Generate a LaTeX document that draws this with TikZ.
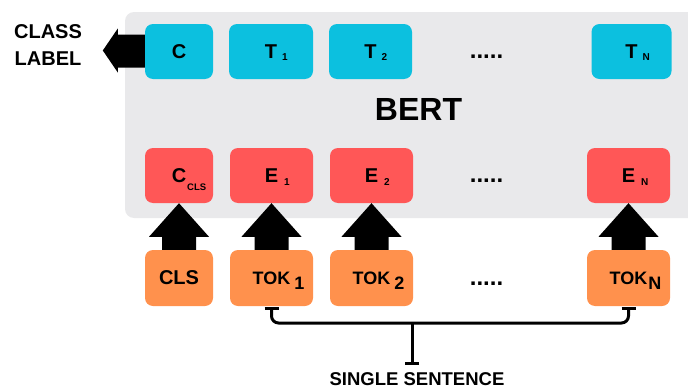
\documentclass[tikz,border=0pt]{standalone}
\usepackage{fontspec}
\setmainfont{Liberation Sans}
\usetikzlibrary{arrows.meta}
\definecolor{cyanbox}{HTML}{0CC0DF}
\definecolor{redbox}{HTML}{FF5757}
\definecolor{orangebox}{HTML}{FF914D}
\definecolor{bggray}{HTML}{E9E9EB}
\newcommand{\fs}[1]{\fontsize{#1}{#1}\selectfont}
\newcommand{\subs}[3]{\rlap{\hspace{#1}\raisebox{#2}[0pt][0pt]{#3}}}
\newcommand{\blockup}[2]{\fill[blockarrow] ([xshift=-17pt]#1.north) -- ([xshift=-17pt,yshift=13pt]#1.north) -- ([xshift=-30pt,yshift=13pt]#1.north) -- (#2.south) -- ([xshift=30pt,yshift=13pt]#1.north) -- ([xshift=17pt,yshift=13pt]#1.north) -- ([xshift=17pt]#1.north) -- cycle;}
\begin{document}
\begin{tikzpicture}[x=1pt,y=-1pt,
 box/.style={rounded corners=8pt, minimum height=55pt, inner sep=0pt, text=black, font=\bfseries},
 topbox/.style={box, fill=cyanbox},
 embbox/.style={box, fill=redbox},
 tokbox/.style={box, fill=orangebox, minimum height=56pt},
 blockarrow/.style={fill=black},
 bracket/.style={line width=3pt, rounded corners=7pt},
 dots/.style={font=\bfseries\fs{24}, inner sep=0pt, anchor=base},
 lbl/.style={font=\bfseries\fontsize{20}{27}\selectfont, align=center, inner sep=0pt}
]
\useasboundingbox (0,0) rectangle (688,388);
\begin{scope}
\clip (0,0) rectangle (688,388);
\fill[bggray, rounded corners=9pt] (125,12) rectangle (720,218);
\end{scope}

% top row
\node[topbox, minimum width=68pt] (C) at (179,51.5) {\fs{20}C};
\node[topbox, minimum width=84pt] (T1) at (271,51.5) {\fs{20}T\subs{5pt}{-2pt}{\fs{10}1}};
\node[topbox, minimum width=83pt] (T2) at (370.5,51.5) {\fs{20}T\subs{5pt}{-2pt}{\fs{10}2}};
\node[topbox, minimum width=80pt] (TN) at (631.5,51.5) {\fs{20}T\subs{5pt}{-2pt}{\fs{10}N}};
\node[dots] (d1) at (486.5,58) {.....};

\node[font=\bfseries\fs{32}, inner sep=0pt] (bert) at (418.5,109.5) {BERT};

% embedding row
\node[embbox, minimum width=68pt] (Ccls) at (179,175.5) {\fs{20}C\subs{1pt}{-8pt}{\fs{9.5}CLS}};
\node[embbox, minimum width=83pt] (E1) at (271.5,175.5) {\fs{20}E\subs{6pt}{-3pt}{\fs{10}1}};
\node[embbox, minimum width=83pt] (E2) at (371.5,175.5) {\fs{20}E\subs{6pt}{-3pt}{\fs{10}2}};
\node[embbox, minimum width=83pt] (EN) at (628.5,175.5) {\fs{20}E\subs{6pt}{-3pt}{\fs{10}N}};
\node[dots] (d2) at (486.5,182) {.....};

% token row
\node[tokbox, minimum width=68pt] (CLS) at (179,278) {\fs{20}CLS};
\node[tokbox, minimum width=83pt] (TOK1) at (271.5,278) {\fs{18}TOK\subs{4pt}{-5pt}{1}};
\node[tokbox, minimum width=83pt] (TOK2) at (371.5,278) {\fs{18}TOK\subs{4pt}{-5pt}{2}};
\node[tokbox, minimum width=83pt] (TOKN) at (628.5,278) {\fs{18}TOK\subs{1pt}{-5pt}{N}};
\node[dots] (d3) at (486.5,285) {.....};

% block arrows
\blockup{CLS}{Ccls}
\blockup{TOK1}{E1}
\blockup{TOK2}{E2}
\blockup{TOKN}{EN}

% class label
\node[lbl] (cl) at (48,45.5) {CLASS\\LABEL};
\coordinate (cltip) at ([xshift=-42pt,yshift=1pt]C.west);
\fill[blockarrow] ([yshift=17pt]C.west) -- ([xshift=-27pt,yshift=17pt]C.west) -- ([xshift=-27pt,yshift=23pt]C.west) -- (cltip) -- ([xshift=-27pt,yshift=-21pt]C.west) -- ([xshift=-27pt,yshift=-16pt]C.west) -- ([yshift=-16pt]C.west) -- cycle;

% bracket
\coordinate (brk) at (412,323);
\coordinate (stemend) at (412,365);
\draw[bracket, {Bar[width=14pt]}-{Bar[width=14pt]}] ([yshift=-1pt]TOK1.south) -- (TOK1.south |- brk) -- (TOKN.south |- brk) -- ([yshift=-1pt]TOKN.south);
\draw[line width=3pt, -{Bar[width=14pt]}] (brk) -- (stemend);
\node[lbl, font=\bfseries\fs{18.5}, anchor=base] (ss) at (417,385) {SINGLE SENTENCE};
\end{tikzpicture}
\end{document}
